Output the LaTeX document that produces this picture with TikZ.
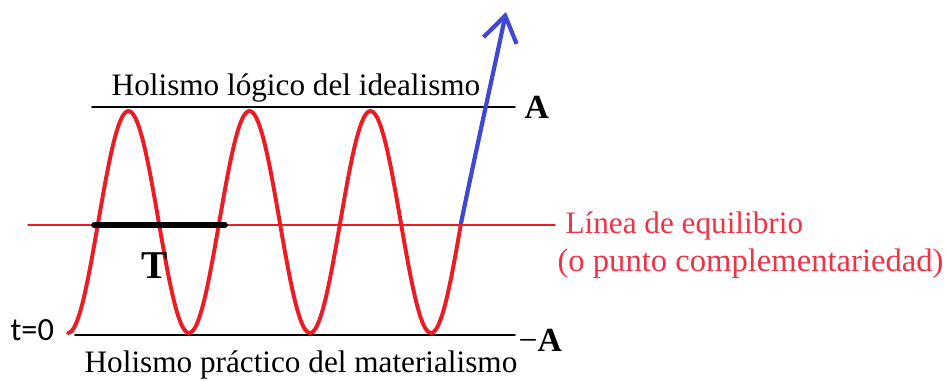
\documentclass[tikz,border=0pt]{standalone}
\usepackage{fontspec}
\setmainfont{Liberation Serif}
\newfontfamily\sansf{Carlito}
\usetikzlibrary{arrows.meta}
\definecolor{rojo}{RGB}{236,28,36}
\definecolor{rojotexto}{RGB}{240,50,70}
\definecolor{azul}{RGB}{62,72,210}
\begin{document}
\begin{tikzpicture}[
    x=0.0125cm,
    y=-0.0125cm,
    line join=round,
    line cap=round,
    texto/.style={font=\fontsize{11.1}{14}\selectfont, inner sep=0pt},
    etiqueta/.style={font=\fontsize{12}{14}\selectfont\bfseries, inner sep=0pt},
    onda/.style={rojo, line width=1.4pt},
    nivel/.style={black, line width=0.6pt}
]
    \useasboundingbox (0,0) rectangle (945,380);

    % parametros de la onda
    \def\xini{68}
    \def\per{121}
    \def\cen{222}
    \def\amp{111}
    \pgfmathsetmacro\xfin{\xini+3.25*\per}

    % niveles A y -A
    \coordinate (topL) at (92,107);
    \coordinate (topR) at (515,107);
    \coordinate (botL) at (75,335);
    \coordinate (botR) at (515,335);
    \draw[nivel] (topL) -- (topR);
    \draw[nivel] (botL) -- (botR);
    \node[etiqueta, anchor=west] (A) at (524,107) {A};
    \node[etiqueta, anchor=west] (mA) at (518,340) {{\mdseries −}A};

    % linea de equilibrio
    \coordinate (eqL) at (28,225);
    \coordinate (eqR) at (555,225);
    \draw[rojo, line width=0.5pt] (eqL) -- (eqR);

    % onda
    \draw[onda] plot[domain=\xini:\xfin, samples=200, smooth]
        (\x, {\cen+\amp*cos((\x-\xini)/\per*360)});

    % tramo final creciente
    \coordinate (cruce) at (\xfin,\cen);
    \coordinate (punta) at (506,12);
    \draw[azul, line width=1.5pt, -{Straight Barb[length=9pt, width=12pt, line width=1.5pt]}]
        (cruce) .. controls (476,150) and (494,70) .. (punta);

    % periodo T
    \coordinate (T1) at (94,225);
    \coordinate (T2) at (225,225);
    \draw[black, line width=2pt] (T1) -- (T2);
    \node[etiqueta, font=\fontsize{14}{16}\selectfont\bfseries] (T) at (155,266) {T};

    % textos
    \node[texto, anchor=base] (ideal) at (296,95) {Holismo lógico del idealismo};
    \node[texto, anchor=base] (mater) at (301,372) {Holismo práctico del materialismo};
    \node[inner sep=0pt, anchor=base west, font=\sansf\fontsize{11.5}{14}\selectfont] (t0) at (10,340) {t=0};
    \node[texto, rojotexto, anchor=base west] (eq1) at (565,233) {Línea de equilibrio};
    \node[texto, rojotexto, anchor=base west, font=\fontsize{11.6}{14}\selectfont] (eq2) at (557,271) {(o punto complementariedad)};

\end{tikzpicture}
\end{document}
